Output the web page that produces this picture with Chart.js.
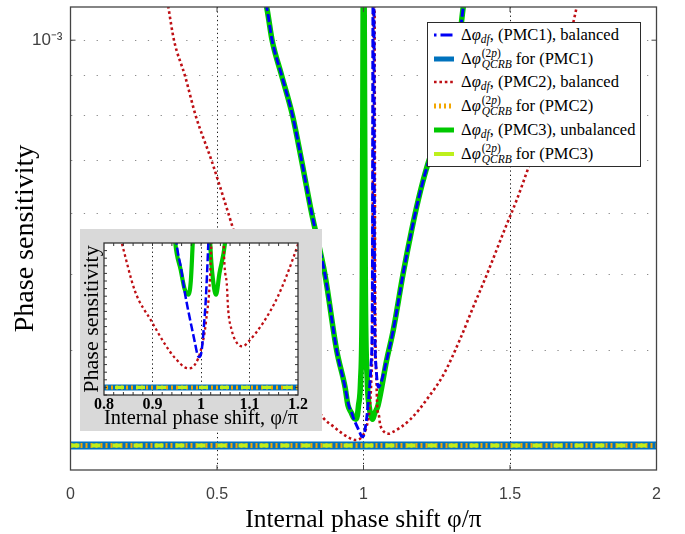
<!DOCTYPE html>
<html><head><meta charset="utf-8">
<script src="https://cdn.jsdelivr.net/npm/chart.js"></script>
<style>
body{margin:0;background:#fff;}
#wrap{position:relative;width:685px;height:534px;overflow:hidden;background:#fff;}
#main{position:absolute;left:0;top:0;}
#insetBox{position:absolute;left:80px;top:229px;width:242px;height:202px;background:#d9d9d9;}
#inset{position:absolute;left:0;top:0;}
#legend{position:absolute;left:427px;top:22px;width:214px;height:145px;background:#fff;border:1px solid #2b2b2b;box-sizing:border-box;font-family:"Liberation Serif",serif;font-size:16.5px;color:#000;}
.row{position:absolute;left:0;height:24px;width:100%;}
.row canvas{position:absolute;left:6px;top:6px;}
.row .txt{position:absolute;left:33px;top:0;line-height:24px;white-space:nowrap;}
.row sub{font-size:11.5px;vertical-align:-3px;line-height:0;}
.ss{display:inline-block;font-size:11.5px;line-height:11px;vertical-align:-4px;margin:0 4px 0 1px;}
.ss span{display:block;}
</style>
</head><body>
<div id="wrap">
  <canvas id="main" width="685" height="534"></canvas>
  <div id="insetBox"><canvas id="inset" width="242" height="202"></canvas></div>
  <div id="legend"></div>
</div>
<script>
// ---------------- DATA (y values in units of 1e-4) ----------------
const Y_UNIT = 1e-4;

// PMC1, balanced (blue dash-dot)
const PMC1_X = [0.655, 0.6696, 0.688, 0.721, 0.758, 0.789, 0.823, 0.8686, 0.9085, 0.937, 0.950, 0.9588, 0.9656, 0.974, 0.981, 0.9876, 0.993, 0.9965, 1.0, 1.0035, 1.0068, 1.0097, 1.0124, 1.015, 1.020, 1.026, 1.030, 1.033, 1.035, 1.038, 1.043, 1.0505, 1.060, 1.0792, 1.1017, 1.1358, 1.1645, 1.187, 1.2157, 1.2747, 1.3065, 1.327, 1.3406, 1.348];
const PMC1_Y = [11.5, 11.02, 10.0, 9.0, 8.0, 7.0, 6.0, 5.0, 4.0, 3.59, 3.396, 3.334, 3.277, 3.220, 3.177, 3.137, 3.105, 3.100, 3.107, 3.142, 3.194, 3.247, 3.317, 3.396, 3.55, 3.85, 4.6, 13.0, 13.0, 4.6, 3.8, 3.59, 3.64, 3.89, 4.25, 5.03, 5.71, 6.24, 6.86, 8.0, 9.0, 10.0, 11.04, 11.5];

// PMC2, balanced (red dotted)
const PMC2_X = [0.325, 0.3338, 0.3532, 0.3908, 0.4273, 0.4819, 0.5386, 0.5556, 0.6058, 0.6638, 0.7082, 0.7628, 0.8365, 0.864, 0.898, 0.926, 0.946, 0.974, 0.988, 1.0, 1.01, 1.02, 1.027, 1.031, 1.034, 1.037, 1.040, 1.044, 1.047, 1.053, 1.056, 1.063, 1.074, 1.086, 1.0975, 1.128, 1.1587, 1.19, 1.2157, 1.2724, 1.329, 1.3748, 1.4205, 1.486, 1.523, 1.5625, 1.60, 1.64, 1.68, 1.71, 1.7276, 1.74];
const PMC2_Y = [11.6, 11.04, 10.0, 9.0, 8.0, 7.0, 6.0, 5.72, 5.05, 4.45, 4.08, 3.74, 3.40, 3.273, 3.194, 3.133, 3.098, 3.070, 3.081, 3.12, 3.19, 3.35, 3.7, 4.6, 13.0, 13.0, 4.6, 3.7, 3.39, 3.295, 3.225, 3.172, 3.137, 3.128, 3.14, 3.19, 3.26, 3.36, 3.46, 3.72, 4.13, 4.55, 5.0, 5.77, 6.24, 6.86, 7.55, 8.4, 9.4, 10.3, 11.03, 11.6];

// PMC3, unbalanced (green solid)
const PMC3_X = [0.655, 0.6696, 0.688, 0.721, 0.758, 0.789, 0.823, 0.8686, 0.9085, 0.937, 0.947, 0.958, 0.966, 0.974, 0.979, 0.983, 0.990, 0.996, 0.999, 1.0005, 1.002, 1.006, 1.013, 1.019, 1.025, 1.031, 1.038, 1.0495, 1.0792, 1.1017, 1.1358, 1.1645, 1.187, 1.2157, 1.2747, 1.3065, 1.327, 1.3406, 1.348];
const PMC3_Y = [11.5, 11.02, 10.0, 9.0, 8.0, 7.0, 6.0, 5.0, 4.0, 3.59, 3.40, 3.33, 3.28, 3.264, 3.30, 3.40, 3.65, 5.0, 12.0, 15.0, 12.0, 5.0, 3.65, 3.40, 3.30, 3.264, 3.32, 3.40, 3.89, 4.25, 5.03, 5.71, 6.24, 6.86, 8.0, 9.0, 10.0, 11.04, 11.5];

// Two-parameter QCRB (same for all three PMCs)
const QCRB_X = [0, 2];
const QCRB_PMC1_Y = [3.02, 3.02];
const QCRB_PMC2_Y = [3.02, 3.02];
const QCRB_PMC3_Y = [3.02, 3.02];

// axes
const X_TICKS = [0, 0.5, 1, 1.5, 2];
const X_TICK_LABELS = ['0', '0.5', '1', '1.5', '2'];
const Y_TICKS = [3e-4, 4e-4, 5e-4, 6e-4, 7e-4, 8e-4, 9e-4, 1e-3];
const Y_TICK_LABEL_VALUE = 1e-3;
const Y_TICK_LABEL = '10\u207B\u00B3';
const INSET_X_TICKS = [0.80,0.82,0.84,0.86,0.88,0.90,0.92,0.94,0.96,0.98,1.00,1.02,1.04,1.06,1.08,1.10,1.12,1.14,1.16,1.18,1.20];
const INSET_X_LABEL_VALUES = [0.8, 0.9, 1.0, 1.1, 1.2];
const INSET_X_LABELS = ['0.8', '0.9', '1', '1.1', '1.2'];
const INSET_Y_TICKS = [3.00,3.02,3.04,3.06,3.08,3.10,3.12,3.14,3.16,3.18,3.20,3.22,3.24,3.26,3.28,3.30,3.32,3.34,3.36,3.38,3.40];

const LABELS = ['\u0394\u03C6df, (PMC1), balanced', '\u0394\u03C6(2p)QCRB for (PMC1)', '\u0394\u03C6df, (PMC2), balanced', '\u0394\u03C6(2p)QCRB for (PMC2)', '\u0394\u03C6df, (PMC3), unbalanced', '\u0394\u03C6(2p)QCRB for (PMC3)'];
const LEGEND_HTML = [
  '\u0394<i>\u03C6</i><sub><i>df</i></sub>, (PMC1), balanced',
  '\u0394<i>\u03C6</i><span class="ss"><span>(2<i>p</i>)</span><span><i>QCRB</i></span></span>for (PMC1)',
  '\u0394<i>\u03C6</i><sub><i>df</i></sub>, (PMC2), balanced',
  '\u0394<i>\u03C6</i><span class="ss"><span>(2<i>p</i>)</span><span><i>QCRB</i></span></span>for (PMC2)',
  '\u0394<i>\u03C6</i><sub><i>df</i></sub>, (PMC3), unbalanced',
  '\u0394<i>\u03C6</i><span class="ss"><span>(2<i>p</i>)</span><span><i>QCRB</i></span></span>for (PMC3)'
];

// ---------------- STYLES ----------------
const STYLES = [
  {color:'#0000F5', w:[2.9,2.5], dash:[8,3], legendDash:[2.5,4,12,3], order:1},
  {color:'#0072BD', w:[8,6], dash:[], order:6},
  {color:'#BE0F14', w:[2.6,2.3], dash:[2.6,2.8], order:2},
  {color:'#F2A600', w:[5,4], dash:[2,3], order:5},
  {color:'#00C800', w:[5.5,4.2], dash:[], order:3},
  {color:'#BDF01C', w:[4,3.2], dash:[9,12], legendDash:[], order:4}
];
const SERIES_X = [PMC1_X, QCRB_X, PMC2_X, QCRB_X, PMC3_X, QCRB_X];
const SERIES_Y = [PMC1_Y, QCRB_PMC1_Y, PMC2_Y, QCRB_PMC2_Y, PMC3_Y, QCRB_PMC3_Y];

function buildDatasets(k) {
  return SERIES_X.map((xs, i) => ({
    label: LABELS[i],
    data: xs.map((x, j) => ({x: x, y: SERIES_Y[i][j] * Y_UNIT})),
    borderColor: STYLES[i].color,
    backgroundColor: STYLES[i].color,
    borderWidth: STYLES[i].w[k],
    borderDash: STYLES[i].dash,
    borderCapStyle: 'butt',
    borderJoinStyle: 'round',
    cubicInterpolationMode: 'monotone',
    pointRadius: 0,
    order: STYLES[i].order,
    clip: 0,
    fill: false
  }));
}

function near(a, b) { return Math.abs(a - b) < 1e-9; }
function noPad(s) { s.paddingTop = 0; s.paddingBottom = 0; s.paddingLeft = 0; s.paddingRight = 0; }

function makeFrame(cfg) {
  return {
    id: 'frame' + cfg.name,
    beforeDraw(chart) {
      if (!cfg.bg) return;
      const {ctx, chartArea: a} = chart;
      ctx.save(); ctx.fillStyle = cfg.bg;
      ctx.fillRect(a.left, a.top, a.right - a.left, a.bottom - a.top);
      ctx.restore();
    },
    afterDatasetsDraw(chart) {
      const {ctx, chartArea: a, scales} = chart;
      ctx.save();
      ctx.strokeStyle = cfg.color; ctx.lineWidth = 1; ctx.setLineDash([]);
      ctx.beginPath();
      scales.x.ticks.forEach(t => {
        const L = cfg.xLen(t.value); if (!L) return;
        const px = scales.x.getPixelForValue(t.value);
        ctx.moveTo(px, a.bottom); ctx.lineTo(px, a.bottom - L);
        ctx.moveTo(px, a.top); ctx.lineTo(px, a.top + L);
      });
      scales.y.ticks.forEach(t => {
        const L = cfg.yLen(t.value); if (!L) return;
        const py = scales.y.getPixelForValue(t.value);
        ctx.moveTo(a.left, py); ctx.lineTo(a.left + L, py);
        ctx.moveTo(a.right, py); ctx.lineTo(a.right - L, py);
      });
      ctx.stroke();
      ctx.lineWidth = cfg.width;
      ctx.strokeRect(a.left, a.top, a.right - a.left, a.bottom - a.top);
      ctx.restore();
    }
  };
}

// ---------------- MAIN CHART ----------------
const mainChart = new Chart(document.getElementById('main'), {
  type: 'line',
  data: {datasets: buildDatasets(0)},
  options: {
    responsive: false, animation: false, devicePixelRatio: 1, events: [],
    layout: {padding: {top: 7, right: 28.5, left: 0, bottom: 0}},
    plugins: {legend: {display: false}, tooltip: {enabled: false}},
    scales: {
      x: {
        type: 'linear', min: 0, max: 2,
        afterBuildTicks: s => { s.ticks = X_TICKS.map(v => ({value: v})); },
        afterFit: s => { s.height = 64; noPad(s); },
        ticks: {
          autoSkip: false, maxRotation: 0, padding: 15, color: '#404040',
          font: {family: '"Liberation Sans", Arial, sans-serif', size: 16},
          callback: v => { const i = X_TICKS.findIndex(t => near(t, v)); return i < 0 ? '' : X_TICK_LABELS[i]; }
        },
        grid: {color: '#1a1a1a', lineWidth: 1, drawTicks: false},
        border: {display: false, dash: [1.3, 3]},
        title: {display: true, text: 'Internal phase shift \u03C6/\u03C0', color: '#000',
          font: {family: '"Liberation Serif", serif', size: 25.5, lineHeight: 1}, padding: {top: 0, bottom: 0.5}}
      },
      y: {
        type: 'logarithmic', min: 2.81e-4, max: 1.103e-3,
        afterBuildTicks: s => { s.ticks = Y_TICKS.map(v => ({value: v})); },
        afterFit: s => { s.width = 70.5; noPad(s); },
        ticks: {
          autoSkip: false, padding: 8, color: '#404040',
          font: {family: '"Liberation Sans", Arial, sans-serif', size: 17},
          callback: v => near(v, Y_TICK_LABEL_VALUE) ? Y_TICK_LABEL : ''
        },
        grid: {color: '#8c8c8c', lineWidth: 1, drawTicks: false},
        border: {display: false, dash: [1.3, 11.5]},
        title: {display: true, text: 'Phase sensitivity', color: '#000',
          font: {family: '"Liberation Serif", serif', size: 28, lineHeight: 1}, padding: {top: 11.5, bottom: 0}}
      }
    }
  },
  plugins: [makeFrame({name: 'main', bg: '#fff', color: '#444', width: 1.3,
    xLen: v => (v > 0 && v < 2) ? 5 : 0,
    yLen: v => near(v, Y_TICK_LABEL_VALUE) ? 5 : 0})]
});

// ---------------- INSET CHART ----------------
const insetChart = new Chart(document.getElementById('inset'), {
  type: 'line',
  data: {datasets: buildDatasets(1)},
  options: {
    responsive: false, animation: false, devicePixelRatio: 1, events: [],
    layout: {padding: {top: 14, right: 24, left: 0, bottom: 0}},
    plugins: {legend: {display: false}, tooltip: {enabled: false}},
    scales: {
      x: {
        type: 'linear', min: 0.8, max: 1.2,
        afterBuildTicks: s => { s.ticks = INSET_X_TICKS.map(v => ({value: v})); },
        afterFit: s => { s.height = 36; noPad(s); },
        ticks: {
          autoSkip: false, maxRotation: 0, padding: 0, color: '#000',
          font: {family: '"Liberation Serif", serif', size: 16, weight: 'bold'},
          callback: v => { const i = INSET_X_LABEL_VALUES.findIndex(t => near(t, v)); return i < 0 ? '' : INSET_X_LABELS[i]; }
        },
        grid: {
          drawTicks: false, lineWidth: 1,
          color: c => { const v = c.tick ? c.tick.value : 0; return (near(v, 0.9) || near(v, 1.0) || near(v, 1.1)) ? '#1a1a1a' : 'rgba(0,0,0,0)'; }
        },
        border: {display: false, dash: [1.3, 3]},
        title: {display: true, text: 'Internal phase shift, \u03C6/\u03C0', color: '#000',
          font: {family: '"Liberation Serif", serif', size: 20.5, lineHeight: 1}, padding: {top: 0, bottom: 2.5}}
      },
      y: {
        type: 'linear', min: 3.0e-4, max: 3.4e-4,
        afterBuildTicks: s => { s.ticks = INSET_Y_TICKS.map(v => ({value: v * Y_UNIT})); },
        afterFit: s => { s.width = 24; noPad(s); },
        ticks: {display: false},
        grid: {display: false, drawTicks: false},
        border: {display: false},
        title: {display: true, text: 'Phase sensitivity', color: '#000',
          font: {family: '"Liberation Serif", serif', size: 22, lineHeight: 1}, padding: {top: 1, bottom: 0}}
      }
    }
  },
  plugins: [makeFrame({name: 'inset', bg: '#fff', color: '#333', width: 1.3,
    xLen: v => (v > 0.8 && v < 1.2) ? 3 : 0,
    yLen: v => (v > 3.0e-4 && v < 3.4e-4) ? 3 : 0})]
});

// ---------------- HTML LEGEND (rich text with sub/superscripts) ----------------
(function buildLegend() {
  const box = document.getElementById('legend');
  mainChart.data.datasets.forEach((ds, i) => {
    const row = document.createElement('div');
    row.className = 'row';
    row.style.top = (i * 23.7) + 'px';
    const c = document.createElement('canvas');
    c.width = 20; c.height = 12;
    const g = c.getContext('2d');
    g.strokeStyle = ds.borderColor;
    g.lineWidth = Math.min(ds.borderWidth, 5);
    g.setLineDash(STYLES[i].legendDash || ds.borderDash);
    g.beginPath(); g.moveTo(0, 6); g.lineTo(20, 6); g.stroke();
    row.appendChild(c);
    const t = document.createElement('span');
    t.className = 'txt';
    t.innerHTML = LEGEND_HTML[i];
    row.appendChild(t);
    box.appendChild(row);
  });
})();
</script>
</body></html>
